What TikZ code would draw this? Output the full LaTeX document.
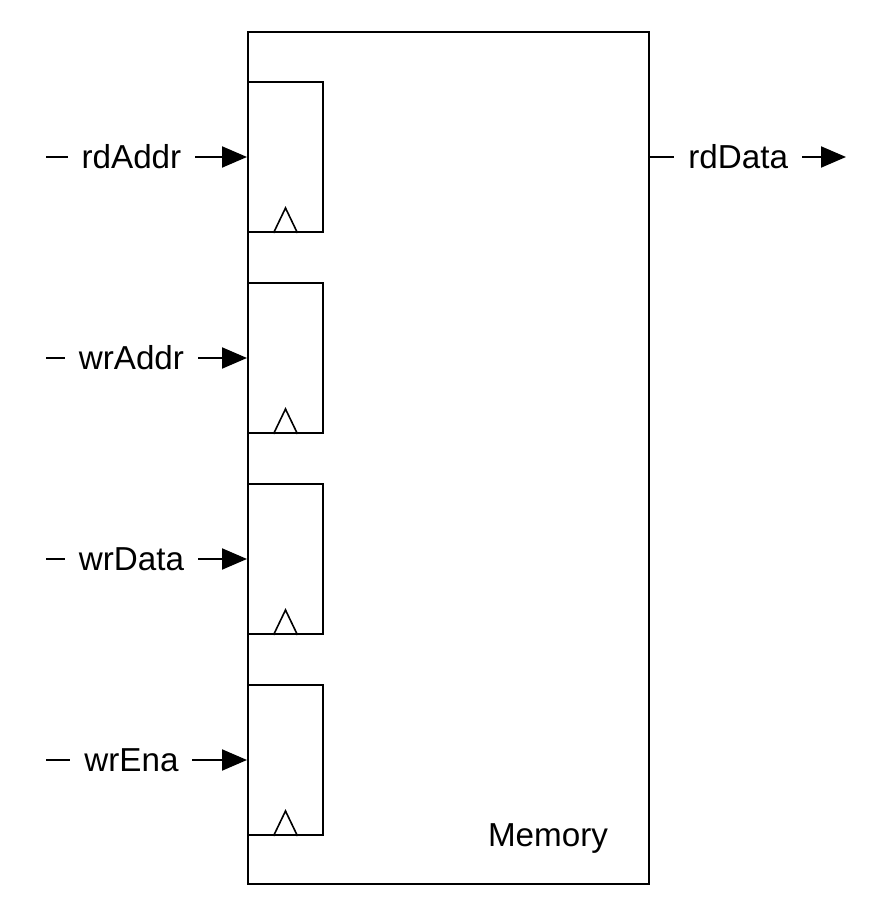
\documentclass[tikz,border=0pt]{standalone}
\usepackage{fontspec}
\setmainfont{Liberation Sans}
\usetikzlibrary{arrows.meta,positioning}
\tikzset{
  box/.style={draw, line width=1pt, inner sep=0pt},
  reg/.style={box, minimum width=37.5pt, minimum height=75pt},
  clk/.style={line width=0.8pt, line join=miter},
  sigline/.style={line width=1pt, -{Triangle[length=12.5pt,width=10.5pt]}},
  sig/.style={fill=white, inner xsep=7pt, inner ysep=2pt, font=\fontsize{16.6}{19}\selectfont},
}
\begin{document}
\begin{tikzpicture}[x=0.5pt,y=0.5pt]
\useasboundingbox (0,0) rectangle (876,910);
\node[box, minimum width=200.5pt, minimum height=426pt] (mem) at (448.5,452) {};
\foreach \name/\lbl [count=\i] in {rA/rdAddr, wA/wrAddr, wD/wrData, wE/wrEna} {
  \node[reg] (\name) at (285.5,{753-201*(\i-1)}) {};
  \draw[clk] ([xshift=-6pt]\name.south) -- ++(6pt,12.5pt) -- ++(6pt,-12.5pt);
  \coordinate[left=100.5pt of \name.west] (in\name);
  \draw[sigline] (in\name) -- node[sig, pos=0.425] (l\name) {\lbl} (\name.west);
}
\coordinate (memOut) at (mem.east |- rA);
\coordinate[right=98pt of memOut] (out);
\draw[sigline] (memOut) -- node[sig, pos=0.45] (lOut) {rdData} (out);
\node[anchor=base, font=\fontsize{16.6}{19}\selectfont] (mLbl) at (548,63) {Memory};
\end{tikzpicture}
\end{document}
